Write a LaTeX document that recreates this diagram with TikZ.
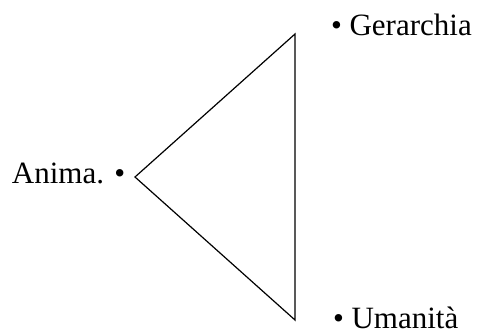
\documentclass[tikz,border=0pt]{standalone}
\usepackage{fontspec}
\setmainfont{Liberation Serif}
\begin{document}
\begin{tikzpicture}[x=1pt,y=-1pt,
  lbl/.style={inner sep=0pt,outer sep=0pt,anchor=base west,font=\fontsize{31}{36}\selectfont},
  edge/.style={line width=1.2pt,line join=miter}]
\useasboundingbox (0,0) rectangle (480,333);
\coordinate (l) at (135,177);
\coordinate (t) at (295,34);
\coordinate (b) at (295,320);
\draw[edge] (l) -- (t) -- (b) -- cycle;
\node[lbl] (anima) at (12,183) {Anima. •};
\node[lbl] (ger) at (331,35) {• Gerarchia};
\node[lbl] (uma) at (333,328) {• Umanità};
\end{tikzpicture}
\end{document}
